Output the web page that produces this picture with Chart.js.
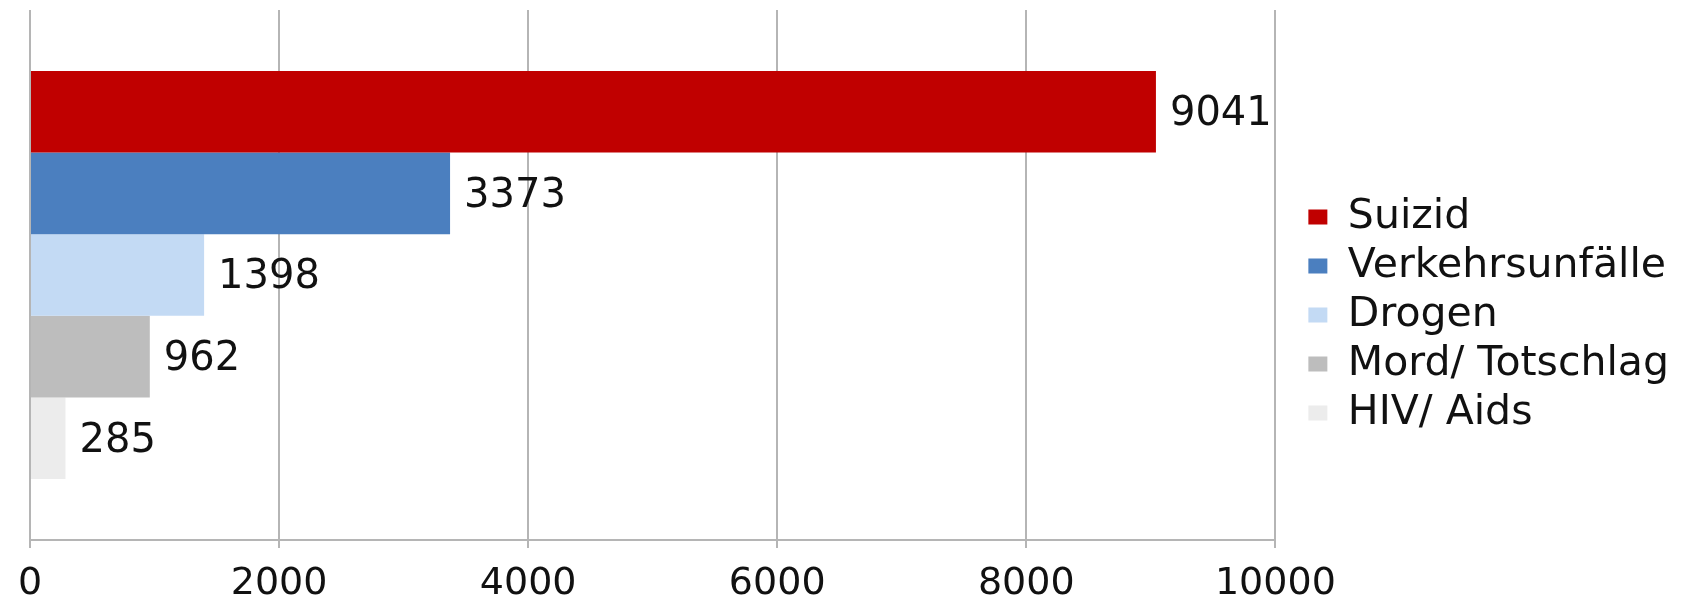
<!DOCTYPE html>
<html>
<head>
<meta charset="utf-8">
<script src="https://cdn.jsdelivr.net/npm/chart.js@4"></script>
<style>
  html, body { margin: 0; padding: 0; background: #fff; }
  #wrap { width: 1681px; height: 602px; position: relative; }
</style>
</head>
<body>
<div id="wrap"><canvas id="deathChart"></canvas></div>
<script>
// data
const categories = ["Suizid", "Verkehrsunfälle", "Drogen", "Mord/ Totschlag", "HIV/ Aids"];
const deaths = [9041, 3373, 1398, 962, 285];
const xTicks = [0, 2000, 4000, 6000, 8000, 10000];

const barColors = ["#c00000", "#4b7fbf", "#c3daf4", "#bdbdbd", "#ececec"];
const fontFamily = "'DejaVu Sans', sans-serif";

// value labels right of each bar end
const valueLabels = {
  id: "valueLabels",
  afterDatasetsDraw(chart) {
    const ctx = chart.ctx;
    ctx.save();
    ctx.font = "40px " + fontFamily;
    ctx.fillStyle = "#111";
    ctx.textAlign = "left";
    ctx.textBaseline = "middle";
    chart.data.datasets.forEach((ds, i) => {
      const bar = chart.getDatasetMeta(i).data[0];
      ctx.fillText(String(ds.data[0]), bar.x + 14, bar.y + 3);
    });
    ctx.restore();
  },
};

const ctx = document.getElementById("deathChart").getContext("2d");
new Chart(ctx, {
  type: "bar",
  data: {
    labels: [""],
    datasets: categories.map((name, i) => ({
      label: name,
      data: [deaths[i]],
      backgroundColor: barColors[i],
      borderWidth: 0,
      categoryPercentage: 0.77,
      barPercentage: 1,
    })),
  },
  options: {
    indexAxis: "y",
    responsive: true,
    maintainAspectRatio: false,
    animation: false,
    layout: {
      padding: { top: 10, left: 30, right: 2, bottom: -18 },
    },
    plugins: {
      tooltip: { enabled: false },
      legend: {
        position: "right",
        labels: {
          color: "#111",
          font: { family: fontFamily, size: 41 },
          boxWidth: 19,
          boxHeight: 15,
          padding: 8,
        },
      },
    },
    scales: {
      x: {
        min: 0,
        max: 10000,
        afterBuildTicks(scale) {
          scale.ticks = xTicks.map((v) => ({ value: v }));
        },
        grid: {
          color: "#b5b5b5",
          lineWidth: 2,
          tickLength: 8,
        },
        border: { color: "#b5b5b5", width: 2 },
        ticks: {
          color: "#111",
          padding: 17,
          maxRotation: 0,
          callback: (v) => String(v),
          font: { family: fontFamily, size: 38, lineHeight: 1 },
        },
      },
      y: {
        position: "right",
        grid: { display: false },
        border: { display: false },
        ticks: { display: false },
        // keeps a gap between plot and legend
        afterFit(scale) {
          scale.width = 25;
        },
      },
    },
  },
  plugins: [valueLabels],
});
</script>
</body>
</html>
